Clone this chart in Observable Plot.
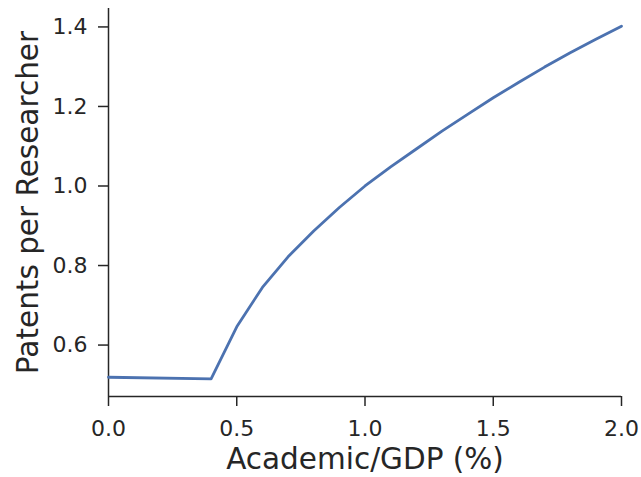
<!DOCTYPE html>
<html>
<head>
<meta charset="utf-8">
<script src="https://cdn.jsdelivr.net/npm/d3@7"></script>
<script src="https://cdn.jsdelivr.net/npm/@observablehq/plot@0.6"></script>
<style>
  html, body { margin: 0; padding: 0; background: #fff; }
  #chart svg { display: block; }
</style>
</head>
<body>
<div id="chart"></div>
<script>
// Academic research spending (% of GDP) vs. patents per researcher
const academicGdp = [0.0, 0.4, 0.5, 0.6, 0.7, 0.8, 0.9, 1.0, 1.1, 1.2, 1.3, 1.4, 1.5, 1.6, 1.7, 1.8, 1.9, 2.0];
const patentsPerResearcher = [0.519, 0.515, 0.646, 0.745, 0.822, 0.887, 0.946, 1.0, 1.048, 1.093, 1.138, 1.180, 1.222, 1.261, 1.299, 1.335, 1.369, 1.402];
const xTicks = [0, 0.5, 1.0, 1.5, 2.0];
const yTicks = [0.6, 0.8, 1.0, 1.2, 1.4];
const xLabel = "Academic/GDP (%)";
const yLabel = "Patents per Researcher";

const rows = academicGdp.map((x, i) => ({x, y: patentsPerResearcher[i]}));

// y limits padded by 5% of the data range on each side
const yMin = d3.min(patentsPerResearcher), yMax = d3.max(patentsPerResearcher);
const pad = (yMax - yMin) * 0.05;

const ink = "#262626";
const font = "DejaVu Sans, sans-serif";

const chart = Plot.plot({
  width: 641,
  height: 477,
  marginLeft: 108,
  marginRight: 20,
  marginTop: 8,
  marginBottom: 81,
  style: {fontFamily: font, color: ink, background: "#fff"},
  x: {domain: [0, 2]},
  y: {domain: [yMin - pad, yMax + pad]},
  marks: [
    Plot.axisX(xTicks, {tickSize: 10, tickPadding: 14, fontSize: 22, tickFormat: d3.format(".1f"), stroke: ink, strokeWidth: 1.5, label: null}),
    Plot.axisY(yTicks, {tickSize: 10, tickPadding: 11, fontSize: 22, tickFormat: d3.format(".1f"), stroke: ink, strokeWidth: 1.5, label: null}),
    Plot.ruleX([0], {stroke: ink, strokeWidth: 1.5}),
    Plot.ruleY([yMin - pad], {stroke: ink, strokeWidth: 1.5}),
    Plot.line(rows, {x: "x", y: "y", stroke: "#4c72b0", strokeWidth: 2.8}),
    Plot.text([xLabel], {frameAnchor: "bottom", textAnchor: "middle", lineAnchor: "bottom", dy: 72, fontSize: 29.5, fill: ink}),
    Plot.text([yLabel], {frameAnchor: "left", textAnchor: "middle", lineAnchor: "bottom", rotate: -90, dx: -71, fontSize: 29.5, fill: ink})
  ]
});

document.getElementById("chart").append(chart);
</script>
</body>
</html>
